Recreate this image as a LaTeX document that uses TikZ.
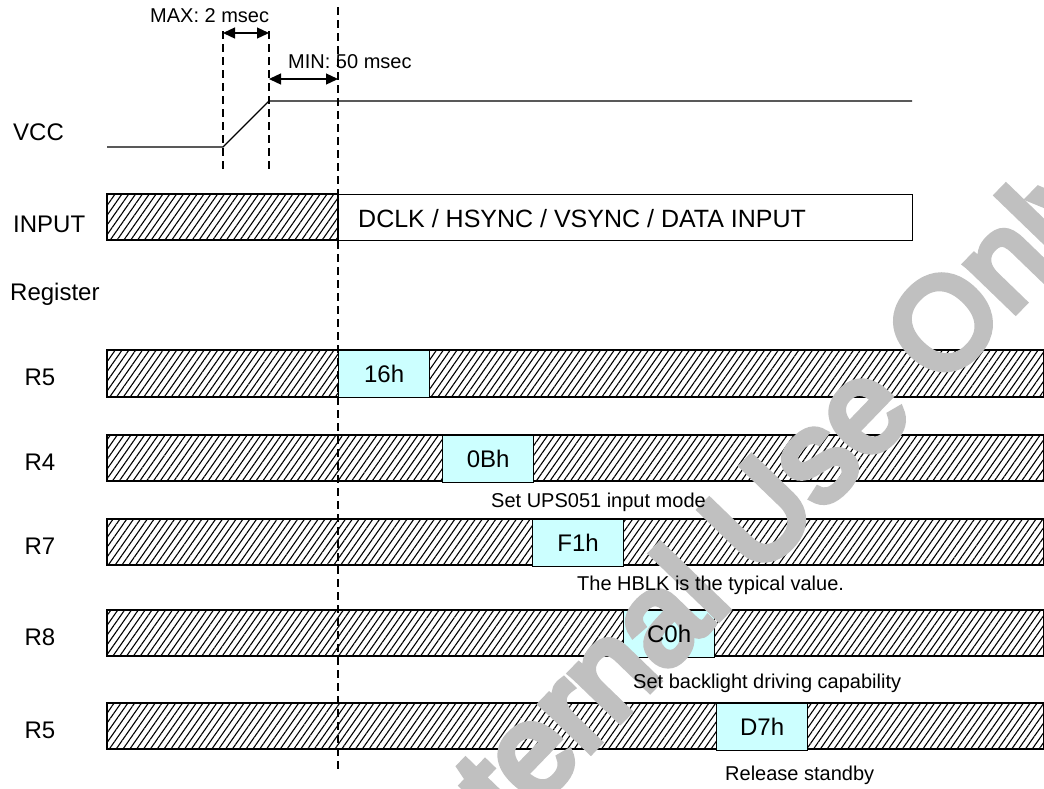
\documentclass[tikz,border=0pt]{standalone}
\usepackage{fontspec}
\setmainfont{Liberation Sans}
\newfontfamily\wmfont[FakeBold=6]{Liberation Sans}
\usepackage{xcolor}
\usepackage{tikz}
\usetikzlibrary{arrows.meta,positioning,patterns.meta}
\definecolor{regcyan}{RGB}{204,255,255}
\definecolor{wmgray}{RGB}{192,192,192}

\begin{document}
\begin{tikzpicture}[x=1pt,y=-1pt,
    sig/.style={font=\fontsize{24}{28}\selectfont, inner sep=0pt},
    note/.style={font=\fontsize{20}{24}\selectfont, inner sep=0pt},
    hatchbar/.style={draw, line width=1.2pt, pattern={Lines[angle=55,distance=5.6pt,line width=1.1pt]}},
    regbox/.style={draw, line width=1.2pt, fill=regcyan, minimum width=91pt, minimum height=47pt,
      inner sep=0pt, anchor=north west},
    val/.style={font=\fontsize{24}{28}\selectfont, inner sep=0pt},
    guide/.style={line width=1.3pt, dash pattern=on 8pt off 5pt},
    span/.style={{Triangle[length=12pt,width=11pt]}-{Triangle[length=12pt,width=11pt]}, line width=1.3pt}]
  \useasboundingbox (0,0) rectangle (1044,788);

  % signal names
  \node[sig, anchor=base west] (vcc) at (13,140) {VCC};
  \node[sig, anchor=base west] (inlbl) at (13,232) {INPUT};
  \node[sig, anchor=base west] (reglbl) at (10,300) {Register};
  \node[sig, anchor=base] (r5a) at (40,385) {R5};
  \node[sig, anchor=base] (r4) at (40,470) {R4};
  \node[sig, anchor=base] (r7) at (40,554) {R7};
  \node[sig, anchor=base] (r8) at (40,645) {R8};
  \node[sig, anchor=base] (r5b) at (40,738) {R5};

  % VCC rise
  \coordinate (vlow) at (107,147);
  \coordinate (rise0) at (223,147);
  \coordinate (rise1) at (269,101);
  \coordinate (vhigh) at (912,101);
  \draw[line width=1.3pt] (vlow) -- (rise0) -- (rise1) -- (vhigh);

  % INPUT
  \draw[hatchbar] (107,194) rectangle (338,240);
  \node[draw, line width=1.2pt, fill=white, minimum width=574pt, minimum height=46pt,
    inner sep=0pt, anchor=north west] (inbox) at (338,194) {};
  \node[font=\fontsize{25}{30}\selectfont, inner sep=0pt, anchor=base west] (intext)
    at (358,227) {DCLK / HSYNC / VSYNC / DATA INPUT};

  % register bars
  \draw[hatchbar] (107,350) rectangle (1044,397);
  \draw[hatchbar] (107,435) rectangle (1044,481);
  \draw[hatchbar] (107,519) rectangle (1044,565);
  \draw[hatchbar] (107,610) rectangle (1044,656);
  \draw[hatchbar] (107,703) rectangle (1044,749);

  % register value boxes
  \node[regbox] (v16) at (338,350) {};
  \node[regbox] (v0b) at (442,435) {};
  \node[regbox] (vf1) at (532,519) {};
  \node[regbox] (vc0) at (623,610) {};
  \node[regbox] (vd7) at (716,703) {};

  % timing guides
  \coordinate (g1t) at (223,31);
  \coordinate (g1b) at (223,170);
  \coordinate (g2t) at (269,31);
  \coordinate (g2b) at (269,170);
  \coordinate (g3t) at (338,7);
  \coordinate (g3b) at (338,772);
  \draw[guide] (g1t) -- (g1b);
  \draw[guide] (g2t) -- (g2b);
  \draw[guide] (g3t) -- (g3b);

  % watermark
  \node[rotate=46, inner sep=0pt, text=wmgray, font=\wmfont\fontsize{128}{128}\selectfont]
    (wm) at (756,532) {Internal Use Only};

  % register values
  \node[val] (t16) at (v16) {16h};
  \node[val] (t0b) at (v0b) {0Bh};
  \node[val] (tf1) at (vf1) {F1h};
  \node[val] (tc0) at (vc0) {C0h};
  \node[val] (td7) at (vd7) {D7h};

  % notes
  \node[note, anchor=base west] (n1) at (491,507) {Set UPS051 input mode};
  \node[note, anchor=base west] (n2) at (577,590) {The HBLK is the typical value.};
  \node[note, anchor=base west] (n3) at (633,688) {Set backlight driving capability};
  \node[note, anchor=base west] (n4) at (725,780) {Release standby};

  % timing spans
  \coordinate (maxa) at (223,33);
  \coordinate (maxb) at (269,33);
  \coordinate (mina) at (269,79);
  \coordinate (minb) at (338,79);
  \draw[span] (maxa) -- (maxb);
  \draw[span] (mina) -- (minb);
  \node[note, anchor=base west] (tmax) at (150,22) {MAX: 2 msec};
  \node[note, anchor=base west] (tmin) at (288,68) {MIN: 50 msec};
\end{tikzpicture}
\end{document}
